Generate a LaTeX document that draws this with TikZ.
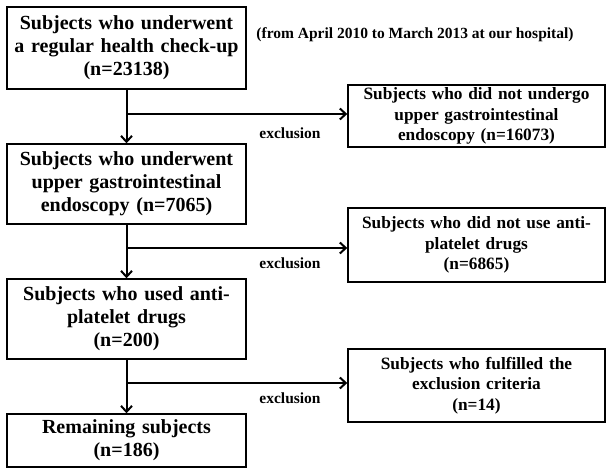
\documentclass[tikz,border=0pt]{standalone}
\usepackage{fontspec}
\setmainfont{Liberation Serif}
\usepackage{tikz}
\usetikzlibrary{arrows.meta}

\tikzset{
  stagebox/.style={draw, line width=1.4pt, inner sep=0pt, align=center,
    text width=232pt, minimum width=239pt,
    font=\bfseries\fontsize{20}{23}\selectfont},
  dropbox/.style={draw, line width=1.4pt, inner sep=0pt, align=center,
    text width=250pt, minimum width=257pt,
    font=\bfseries\fontsize{17.3}{20.5}\selectfont},
  notelabel/.style={inner sep=0pt, font=\bfseries\fontsize{15.5}{18}\selectfont},
  flowarrow/.style={line width=2pt, -{Straight Barb[length=6pt,width=11pt,line width=2pt]}}
}

\begin{document}
\begin{tikzpicture}[x=1pt, y=-1pt]
\useasboundingbox (0,0) rectangle (607,468);
% left column
\node[stagebox, minimum height=82pt] (checkup) at (126.5,48) {Subjects who underwent\\a regular health check-up\\(n=23138)};
\node[stagebox, minimum height=80pt] (endo) at (126.5,184) {Subjects who underwent\\upper gastrointestinal\\endoscopy (n=7065)};
\node[stagebox, minimum height=80pt] (antiplt) at (126.5,319) {Subjects who used anti-\\platelet drugs\\(n=200)};
\node[stagebox, minimum height=53pt] (remain) at (126.5,440.5) {Remaining subjects\\(n=186)};
% right column
\node[dropbox, minimum height=62pt] (noendo) at (476.5,116) {Subjects who did not undergo\\upper gastrointestinal\\endoscopy (n=16073)};
\node[dropbox, minimum height=74pt] (noanti) at (476.5,245) {Subjects who did not use anti-\\platelet drugs\\(n=6865)};
\node[dropbox, minimum height=73pt] (crit) at (476.5,385.5) {Subjects who fulfilled the\\exclusion criteria\\(n=14)};
% notes
\node[notelabel] (period) at (415,35) {(from April 2010 to March 2013 at our hospital)};
\node[notelabel] (excl1) at (290,133) {exclusion};
\node[notelabel] (excl2) at (290,263) {exclusion};
\node[notelabel] (excl3) at (290,398) {exclusion};
% branch points
\coordinate (fork1) at (126.5,114);
\coordinate (fork2) at (126.5,248);
\coordinate (fork3) at (126.5,383);
% connectors
\draw[flowarrow] (checkup.south) -- (endo.north);
\draw[flowarrow] (endo.south) -- (antiplt.north);
\draw[flowarrow] (antiplt.south) -- (remain.north);
\draw[flowarrow] (fork1) -- (fork1 -| noendo.west);
\draw[flowarrow] (fork2) -- (fork2 -| noanti.west);
\draw[flowarrow] (fork3) -- (fork3 -| crit.west);
\end{tikzpicture}
\end{document}
